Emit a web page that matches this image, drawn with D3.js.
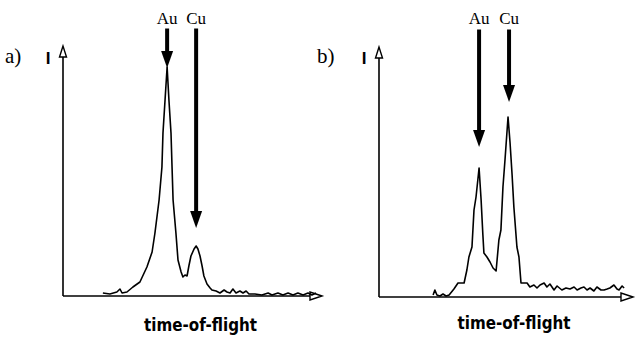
<!DOCTYPE html>
<html>
<head>
<meta charset="utf-8">
<script src="https://cdn.jsdelivr.net/npm/d3@7"></script>
<style>
  body { margin: 0; background: #fff; }
  svg { display: block; }
</style>
</head>
<body>
<svg id="chart" width="637" height="337"></svg>
<script>
// a) spectrum: time-of-flight (arb. units) vs intensity (arb. units)
let timeA = [15.4, 18.1, 20.8, 22.0, 22.8, 24.7, 27.0, 29.7, 32.4, 34.4, 35.5, 37.1, 38.2, 38.6, 39.4, 40.2,
  40.9, 41.7, 42.1, 42.5, 43.6, 44.4, 45.6, 46.3, 47.1, 47.9, 48.6, 49.4, 50.6, 51.4, 52.1, 52.9, 53.7, 54.4,
  55.6, 56.8, 57.5, 59.1, 60.6, 62.2, 63.3, 64.5, 65.6, 66.8, 68.3, 69.5, 70.7, 71.8, 74.1, 76.8, 79.2, 80.7,
  83.0, 84.9, 86.9, 88.8, 90.7, 92.7, 94.6, 96.1, 97.7];
let intA = [1.2, 0.8, 1.6, 2.8, 1.2, 1.6, 3.6, 5.6, 11.6, 17.6, 25.2, 38.4, 51.6, 65.2, 78.4, 91.6,
  78.4, 65.2, 51.6, 38.4, 25.2, 14.4, 9.6, 7.6, 8.4, 8.0, 12.0, 16.0, 18.8, 20.0, 18.8, 16.0, 12.0, 8.0,
  4.8, 3.2, 2.4, 2.0, 1.2, 2.4, 1.6, 1.2, 2.8, 1.2, 2.0, 1.2, 2.0, 0.8, 0.8, 0.4, 1.2, 0.4,
  1.2, 0.4, 1.2, 0.4, 1.2, 0.4, 1.2, 0.4, 1.2];

// b) spectrum
let timeB = [21.3, 22.0, 22.8, 24.0, 25.2, 26.4, 27.6, 29.5, 31.1, 33.5, 34.6, 35.4, 36.6, 37.4, 38.2, 39.4,
  40.2, 40.9, 41.3, 42.5, 43.7, 44.9, 46.1, 47.2, 48.0, 48.8, 49.6, 50.8, 51.6, 52.4, 53.1, 54.3, 55.1, 55.9,
  58.3, 59.4, 61.0, 62.2, 63.4, 65.0, 66.1, 67.3, 68.9, 70.1, 72.0, 73.6, 75.2, 76.8, 78.0, 79.5, 80.7, 81.9,
  83.1, 84.6, 85.8, 87.4, 88.6, 89.8, 90.9, 92.5, 93.7, 94.5, 95.7, 96.5];
let intB = [0.8, 2.8, 0.8, 0.4, 1.2, 0.4, 0.8, 3.2, 5.6, 5.6, 10.8, 16.0, 20.0, 34.8, 40.0, 51.6,
  38.8, 24.8, 17.6, 16.0, 14.0, 11.6, 10.4, 22.8, 26.8, 44.0, 54.8, 72.0, 61.6, 48.8, 36.0, 20.0, 16.0, 5.6,
  5.6, 4.0, 4.8, 3.6, 4.8, 5.6, 4.0, 5.2, 2.8, 4.4, 2.8, 3.6, 3.2, 4.0, 2.8, 3.6, 4.0, 2.8,
  3.6, 2.4, 4.0, 2.8, 2.8, 3.2, 3.6, 4.8, 3.2, 2.8, 4.4, 3.6];

// peak markers
let ions = ["Au", "Cu"];
let arrowTimeA = [40.2, 51.4];
let arrowTipA = [91.2, 27.2];
let arrowTimeB = [39.4, 51.2];
let arrowTipB = [60, 78];
let arrowTop = 107;

let panelNames = ["a)", "b)"];
let xTitle = "time-of-flight";
let yTitle = "I";

let svg = d3.select("#chart");

let panels = [
  { name: panelNames[0], time: timeA, inten: intA, arrowT: arrowTimeA, arrowI: arrowTipA,
    left: 63, right: 322, bottom: 296, top: 46, nameX: 5, titleY: 331 },
  { name: panelNames[1], time: timeB, inten: intB, arrowT: arrowTimeB, arrowI: arrowTipB,
    left: 379, right: 633, bottom: 297, top: 47, nameX: 317, titleY: 329 }
];

panels.forEach((p) => {
  let x = d3.scaleLinear().domain([0, 100]).range([p.left, p.right]);
  let y = d3.scaleLinear().domain([0, 100]).range([p.bottom, p.top]);
  let g = svg.append("g");

  // axes with open arrow heads
  g.append("line")
    .attr("x1", x(0)).attr("y1", y(0))
    .attr("x2", x(0)).attr("y2", y(100) + 10)
    .style("stroke", "black").style("stroke-width", 1.6);
  g.append("line")
    .attr("x1", x(0)).attr("y1", y(0))
    .attr("x2", x(100) - 11).attr("y2", y(0))
    .style("stroke", "black").style("stroke-width", 1.6);
  g.append("path")
    .attr("d", `M${x(0)},${y(100)} L${x(0) - 3.5},${y(100) + 11} L${x(0) + 3.5},${y(100) + 11} Z`)
    .style("fill", "white").style("stroke", "black").style("stroke-width", 1.4);
  g.append("path")
    .attr("d", `M${x(100)},${y(0)} L${x(100) - 12},${y(0) - 4} L${x(100) - 12},${y(0) + 4} Z`)
    .style("fill", "white").style("stroke", "black").style("stroke-width", 1.4);

  // spectrum
  let pts = d3.zip(p.time, p.inten);
  let line = d3.line().x((d) => x(d[0])).y((d) => y(d[1]));
  g.append("path")
    .datum(pts)
    .attr("d", line)
    .style("fill", "none")
    .style("stroke", "black")
    .style("stroke-width", 1.6)
    .style("stroke-linejoin", "round");

  // arrows + element labels
  ions.forEach((ion, i) => {
    let ax = x(p.arrowT[i]);
    let tipY = y(p.arrowI[i]);
    g.append("line")
      .attr("x1", ax).attr("y1", y(arrowTop))
      .attr("x2", ax).attr("y2", tipY - 12)
      .style("stroke", "black").style("stroke-width", 4);
    g.append("path")
      .attr("d", `M${ax},${tipY} L${ax - 6},${tipY - 17} L${ax + 6},${tipY - 17} Z`)
      .style("fill", "black");
    g.append("text")
      .attr("x", ax)
      .attr("y", 24)
      .attr("text-anchor", "middle")
      .style("font-family", "'Liberation Serif', serif")
      .style("font-size", "17px")
      .text(ion);
  });

  g.append("text")
    .attr("x", p.nameX)
    .attr("y", 63)
    .style("font-family", "'Liberation Serif', serif")
    .style("font-size", "21px")
    .text(p.name);

  g.append("text")
    .attr("x", x(0) - 15)
    .attr("y", 64)
    .attr("text-anchor", "middle")
    .style("font-family", "'Liberation Sans', sans-serif")
    .style("font-weight", "bold")
    .style("font-size", "17px")
    .text(yTitle);

  g.append("text")
    .attr("x", (x(0) + x(100)) / 2 + 8)
    .attr("y", p.titleY)
    .attr("text-anchor", "middle")
    .attr("textLength", 113)
    .attr("lengthAdjust", "spacingAndGlyphs")
    .style("font-family", "'DejaVu Sans', sans-serif")
    .style("font-weight", "bold")
    .style("font-size", "17px")
    .text(xTitle);
});
</script>
</body>
</html>
